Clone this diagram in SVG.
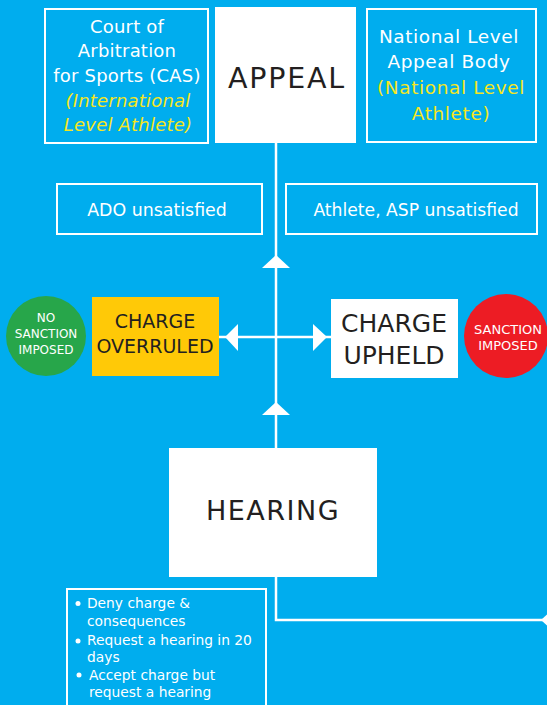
<svg xmlns="http://www.w3.org/2000/svg" width="547" height="705" viewBox="0 0 547 705">
<style>
text{font-family:"DejaVu Sans","Noto Sans","Liberation Sans",sans-serif}
.w{fill:#ffffff}
.d{fill:#231f20}
.y{fill:#f5e61e}
.ob{fill:none;stroke:#ffffff;stroke-width:2}
.ln{fill:none;stroke:#ffffff;stroke-width:2.5}
.ah{fill:#ffffff}
</style>
<rect width="547" height="705" fill="#00adee"/>
<g id="connectors">
<path class="ln" d="M276,143 V448"/>
<path class="ln" d="M219,337 H331"/>
<path class="ln" d="M276,577 V620 H547"/>
<polygon class="ah" points="276,255 262,268 290,268"/>
<polygon class="ah" points="276,402 262,415 290,415"/>
<polygon class="ah" points="225,337 238,324 238,351"/>
<polygon class="ah" points="327,337 313,324 313,351"/>
<polygon class="ah" points="541,620 555,607 555,633"/>
</g>
<g id="cas">
<rect class="ob" x="45" y="9" width="163" height="134"/>
<g font-size="18" text-anchor="middle" letter-spacing="0.2">
<text class="w" x="127" y="33">Court of</text>
<text class="w" x="127" y="57">Arbitration</text>
<text class="w" x="127" y="82">for Sports (CAS)</text>
<text class="y" x="128" y="107" font-style="italic">(International</text>
<text class="y" x="128" y="131" font-style="italic">Level Athlete)</text>
</g>
</g>
<g id="appeal">
<rect x="215" y="7" width="141" height="136" fill="#ffffff"/>
<text class="d" x="287" y="88" font-size="28.5" letter-spacing="1.8" text-anchor="middle">APPEAL</text>
</g>
<g id="national">
<rect class="ob" x="367" y="9" width="169" height="133"/>
<g font-size="18.5" text-anchor="middle" letter-spacing="0.6">
<text class="w" x="449" y="43">National Level</text>
<text class="w" x="449" y="68">Appeal Body</text>
<text class="y" x="451" y="94">(National Level</text>
<text class="y" x="451" y="120">Athlete)</text>
</g>
</g>
<g id="ado">
<rect class="ob" x="57" y="184" width="205" height="50"/>
<text class="w" x="157" y="216" font-size="17.4" text-anchor="middle">ADO unsatisfied</text>
</g>
<g id="athlete">
<rect class="ob" x="286" y="184" width="251" height="50"/>
<text class="w" x="416" y="216" font-size="17.2" text-anchor="middle">Athlete, ASP unsatisfied</text>
</g>
<g id="no-sanction">
<circle cx="46" cy="336" r="40" fill="#27a64a"/>
<g font-size="12" text-anchor="middle" class="w">
<text x="46" y="322">NO</text>
<text x="46" y="338">SANCTION</text>
<text x="46" y="354">IMPOSED</text>
</g>
</g>
<g id="overruled">
<rect x="92" y="297" width="127" height="79" fill="#ffc907"/>
<g font-size="19" text-anchor="middle" class="d">
<text x="155" y="328">CHARGE</text>
<text x="155" y="353">OVERRULED</text>
</g>
</g>
<g id="upheld">
<rect x="331" y="299" width="127" height="79" fill="#ffffff"/>
<g font-size="25" text-anchor="middle" class="d">
<text x="394" y="332">CHARGE</text>
<text x="394" y="364">UPHELD</text>
</g>
</g>
<g id="sanction">
<circle cx="506" cy="336" r="42" fill="#ed1c24"/>
<g font-size="13" text-anchor="middle" class="w">
<text x="508" y="334">SANCTION</text>
<text x="508" y="350">IMPOSED</text>
</g>
</g>
<g id="hearing">
<rect x="169" y="448" width="208" height="129" fill="#ffffff"/>
<text class="d" x="273" y="520" font-size="27" letter-spacing="1.5" text-anchor="middle">HEARING</text>
</g>
<g id="options">
<rect class="ob" x="67" y="589" width="199" height="130"/>
<g font-size="13.8" class="w">
<circle cx="78" cy="603.5" r="2.5"/>
<text x="87" y="608">Deny charge &amp;</text>
<text x="87" y="626">consequences</text>
<circle cx="78" cy="641" r="2.5"/>
<text x="87" y="645">Request a hearing in 20</text>
<text x="87" y="662">days</text>
<circle cx="79" cy="675" r="2.5"/>
<text x="89" y="680">Accept charge but</text>
<text x="89" y="697">request a hearing</text>
</g>
</g>
</svg>
